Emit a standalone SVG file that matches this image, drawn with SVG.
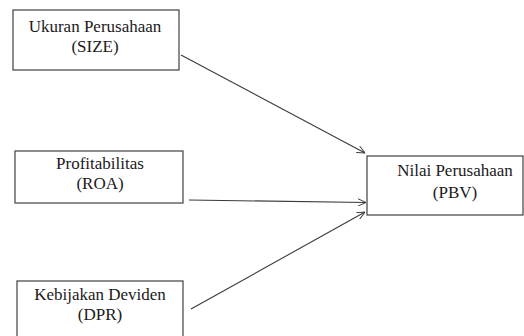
<svg xmlns="http://www.w3.org/2000/svg" width="524" height="336" viewBox="0 0 524 336">
<style>
.box{fill:#fff;stroke:#404040;stroke-width:1.2}
.c{fill:none;stroke:#3a3a3a;stroke-width:1.1}
</style>
<defs>
<marker id="ah" viewBox="0 0 10 10" refX="10" refY="5" markerWidth="8" markerHeight="8" markerUnits="userSpaceOnUse" orient="auto">
<path d="M0,0.5 L10,5 L0,9.5" fill="none" stroke="#3a3a3a" stroke-width="1.2"/>
</marker>
</defs>
<rect width="524" height="336" fill="#fff"/>
<g id="size">
<rect class="box" x="13" y="10" width="166" height="60"/>
<text style="font-family:'Liberation Serif',serif;font-size:17px" fill="#1a1a1a" text-anchor="middle" x="95" y="32">Ukuran Perusahaan</text>
<text style="font-family:'Liberation Serif',serif;font-size:17px" fill="#1a1a1a" text-anchor="middle" x="95" y="52">(SIZE)</text>
</g>
<g id="roa">
<rect class="box" x="15" y="151" width="168" height="52"/>
<text style="font-family:'Liberation Serif',serif;font-size:17px" fill="#1a1a1a" text-anchor="middle" x="100" y="169">Profitabilitas</text>
<text style="font-family:'Liberation Serif',serif;font-size:17px" fill="#1a1a1a" text-anchor="middle" x="100" y="189">(ROA)</text>
</g>
<g id="dpr">
<rect class="box" x="17" y="281" width="166" height="60"/>
<text style="font-family:'Liberation Serif',serif;font-size:17px" fill="#1a1a1a" text-anchor="middle" x="100" y="300">Kebijakan Deviden</text>
<text style="font-family:'Liberation Serif',serif;font-size:17px" fill="#1a1a1a" text-anchor="middle" x="100" y="320">(DPR)</text>
</g>
<g id="pbv">
<rect class="box" x="367" y="156" width="156" height="59"/>
<text style="font-family:'Liberation Serif',serif;font-size:17px" fill="#1a1a1a" text-anchor="middle" x="455" y="176">Nilai Perusahaan</text>
<text style="font-family:'Liberation Serif',serif;font-size:17px" fill="#1a1a1a" text-anchor="middle" x="455" y="198">(PBV)</text>
</g>
<g id="connectors">
<line class="c" x1="181" y1="55" x2="365" y2="153" marker-end="url(#ah)"/>
<line class="c" x1="189" y1="200" x2="366" y2="202.5" marker-end="url(#ah)"/>
<line class="c" x1="191" y1="309" x2="365" y2="212" marker-end="url(#ah)"/>
</g>
</svg>
